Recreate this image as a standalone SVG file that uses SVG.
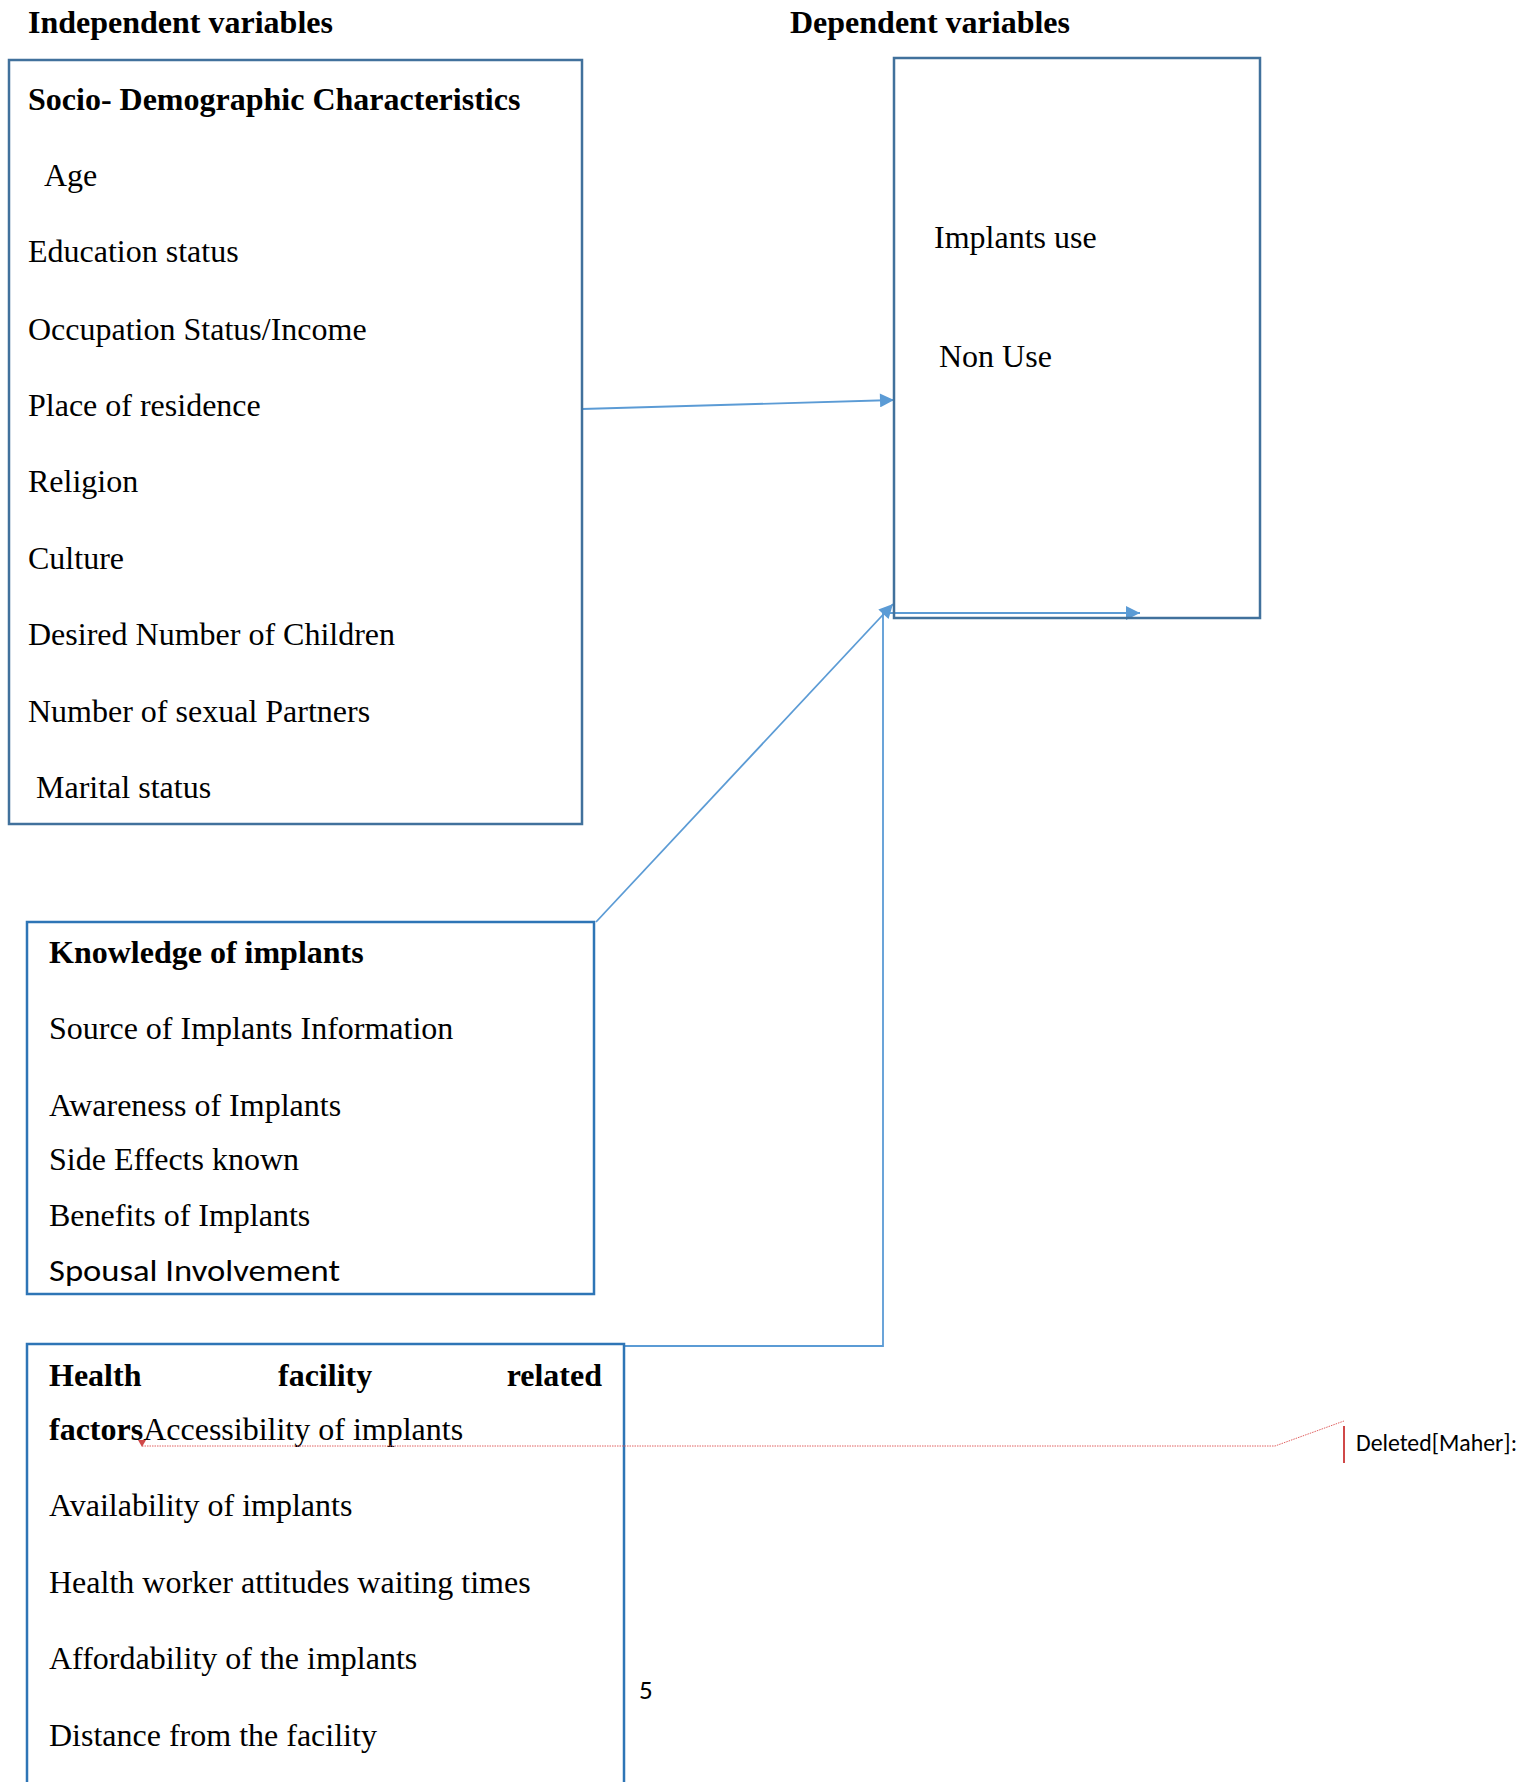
<svg xmlns="http://www.w3.org/2000/svg" width="1524" height="1782" viewBox="0 0 1524 1782">
<defs>
<style>
.t{font-family:"Liberation Serif","Times New Roman",serif;font-size:32px;fill:#000}
.b{font-weight:bold}
.s{font-family:Carlito,"Liberation Sans",sans-serif;fill:#000}
.box1{fill:none;stroke:#41719C;stroke-width:2.5}
.box2{fill:none;stroke:#2E75B6;stroke-width:2.5}
.c{fill:none;stroke:#5B9BD5;stroke-width:1.8}
.r{fill:none;stroke:#E06060;stroke-width:1;stroke-dasharray:1.5 1}
</style>
<marker id="ah" viewBox="0 0 10 10" refX="10" refY="5" markerWidth="15" markerHeight="14" markerUnits="userSpaceOnUse" orient="auto">
<path d="M0,0 L10,5 L0,10 z" fill="#5B9BD5"/>
</marker>
</defs>
<rect width="1524" height="1782" fill="#fff"/>
<text class="t b" x="28" y="33">Independent variables</text>
<text class="t b" x="790" y="33">Dependent variables</text>

<g id="connectors">
<line class="c" x1="582" y1="409" x2="894" y2="400" marker-end="url(#ah)"/>
<line class="c" x1="596" y1="922" x2="893" y2="604" marker-end="url(#ah)"/>
<polyline class="c" points="624,1346 883,1346 883,613 1140,613" marker-end="url(#ah)"/>
</g>

<g id="socio">
<rect class="box1" x="9" y="60" width="573" height="764"/>
<text class="t b" x="28" y="110">Socio- Demographic Characteristics</text>
<text class="t" x="44" y="186">Age</text>
<text class="t" x="28" y="262">Education status</text>
<text class="t" x="28" y="340">Occupation Status/Income</text>
<text class="t" x="28" y="416">Place of residence</text>
<text class="t" x="28" y="492">Religion</text>
<text class="t" x="28" y="569">Culture</text>
<text class="t" x="28" y="645">Desired Number of Children</text>
<text class="t" x="28" y="722">Number of sexual Partners</text>
<text class="t" x="36" y="798">Marital status</text>
</g>

<g id="dependent">
<rect class="box1" x="894" y="58" width="366" height="560"/>
<text class="t" x="934" y="248">Implants use</text>
<text class="t" x="939" y="367">Non Use</text>
</g>

<g id="knowledge">
<rect class="box2" x="27" y="922" width="567" height="372"/>
<text class="t b" x="49" y="963">Knowledge of implants</text>
<text class="t" x="49" y="1039">Source of Implants Information</text>
<text class="t" x="49" y="1116">Awareness of Implants</text>
<text class="t" x="49" y="1170">Side Effects known</text>
<text class="t" x="49" y="1226">Benefits of Implants</text>
<text class="s" x="49" y="1281" font-size="31" textLength="291" lengthAdjust="spacingAndGlyphs">Spousal Involvement</text>
</g>

<g id="health">
<rect class="box2" x="27" y="1344" width="597" height="460"/>
<text class="t b" x="49" y="1386">Health</text>
<text class="t b" x="278" y="1386">facility</text>
<text class="t b" x="602" y="1386" text-anchor="end">related</text>
<text class="t" x="49" y="1440"><tspan class="b">factors</tspan>Accessibility of implants</text>
<text class="t" x="49" y="1516">Availability of implants</text>
<text class="t" x="49" y="1593">Health worker attitudes waiting times</text>
<text class="t" x="49" y="1669">Affordability of the implants</text>
<text class="t" x="49" y="1746">Distance from the facility</text>
</g>

<g id="comment">
<polyline class="r" points="142,1446 1275,1446 1344,1421"/>
<path d="M138,1440 L146,1440 L142,1447 z" fill="#D04848"/>
<line x1="1344" y1="1426" x2="1344" y2="1463" stroke="#D04848" stroke-width="2"/>
<text class="s" x="1356" y="1451" font-size="24" textLength="161" lengthAdjust="spacingAndGlyphs">Deleted[Maher]:</text>
</g>

<text class="s" x="639" y="1699" font-size="27">5</text>
</svg>
